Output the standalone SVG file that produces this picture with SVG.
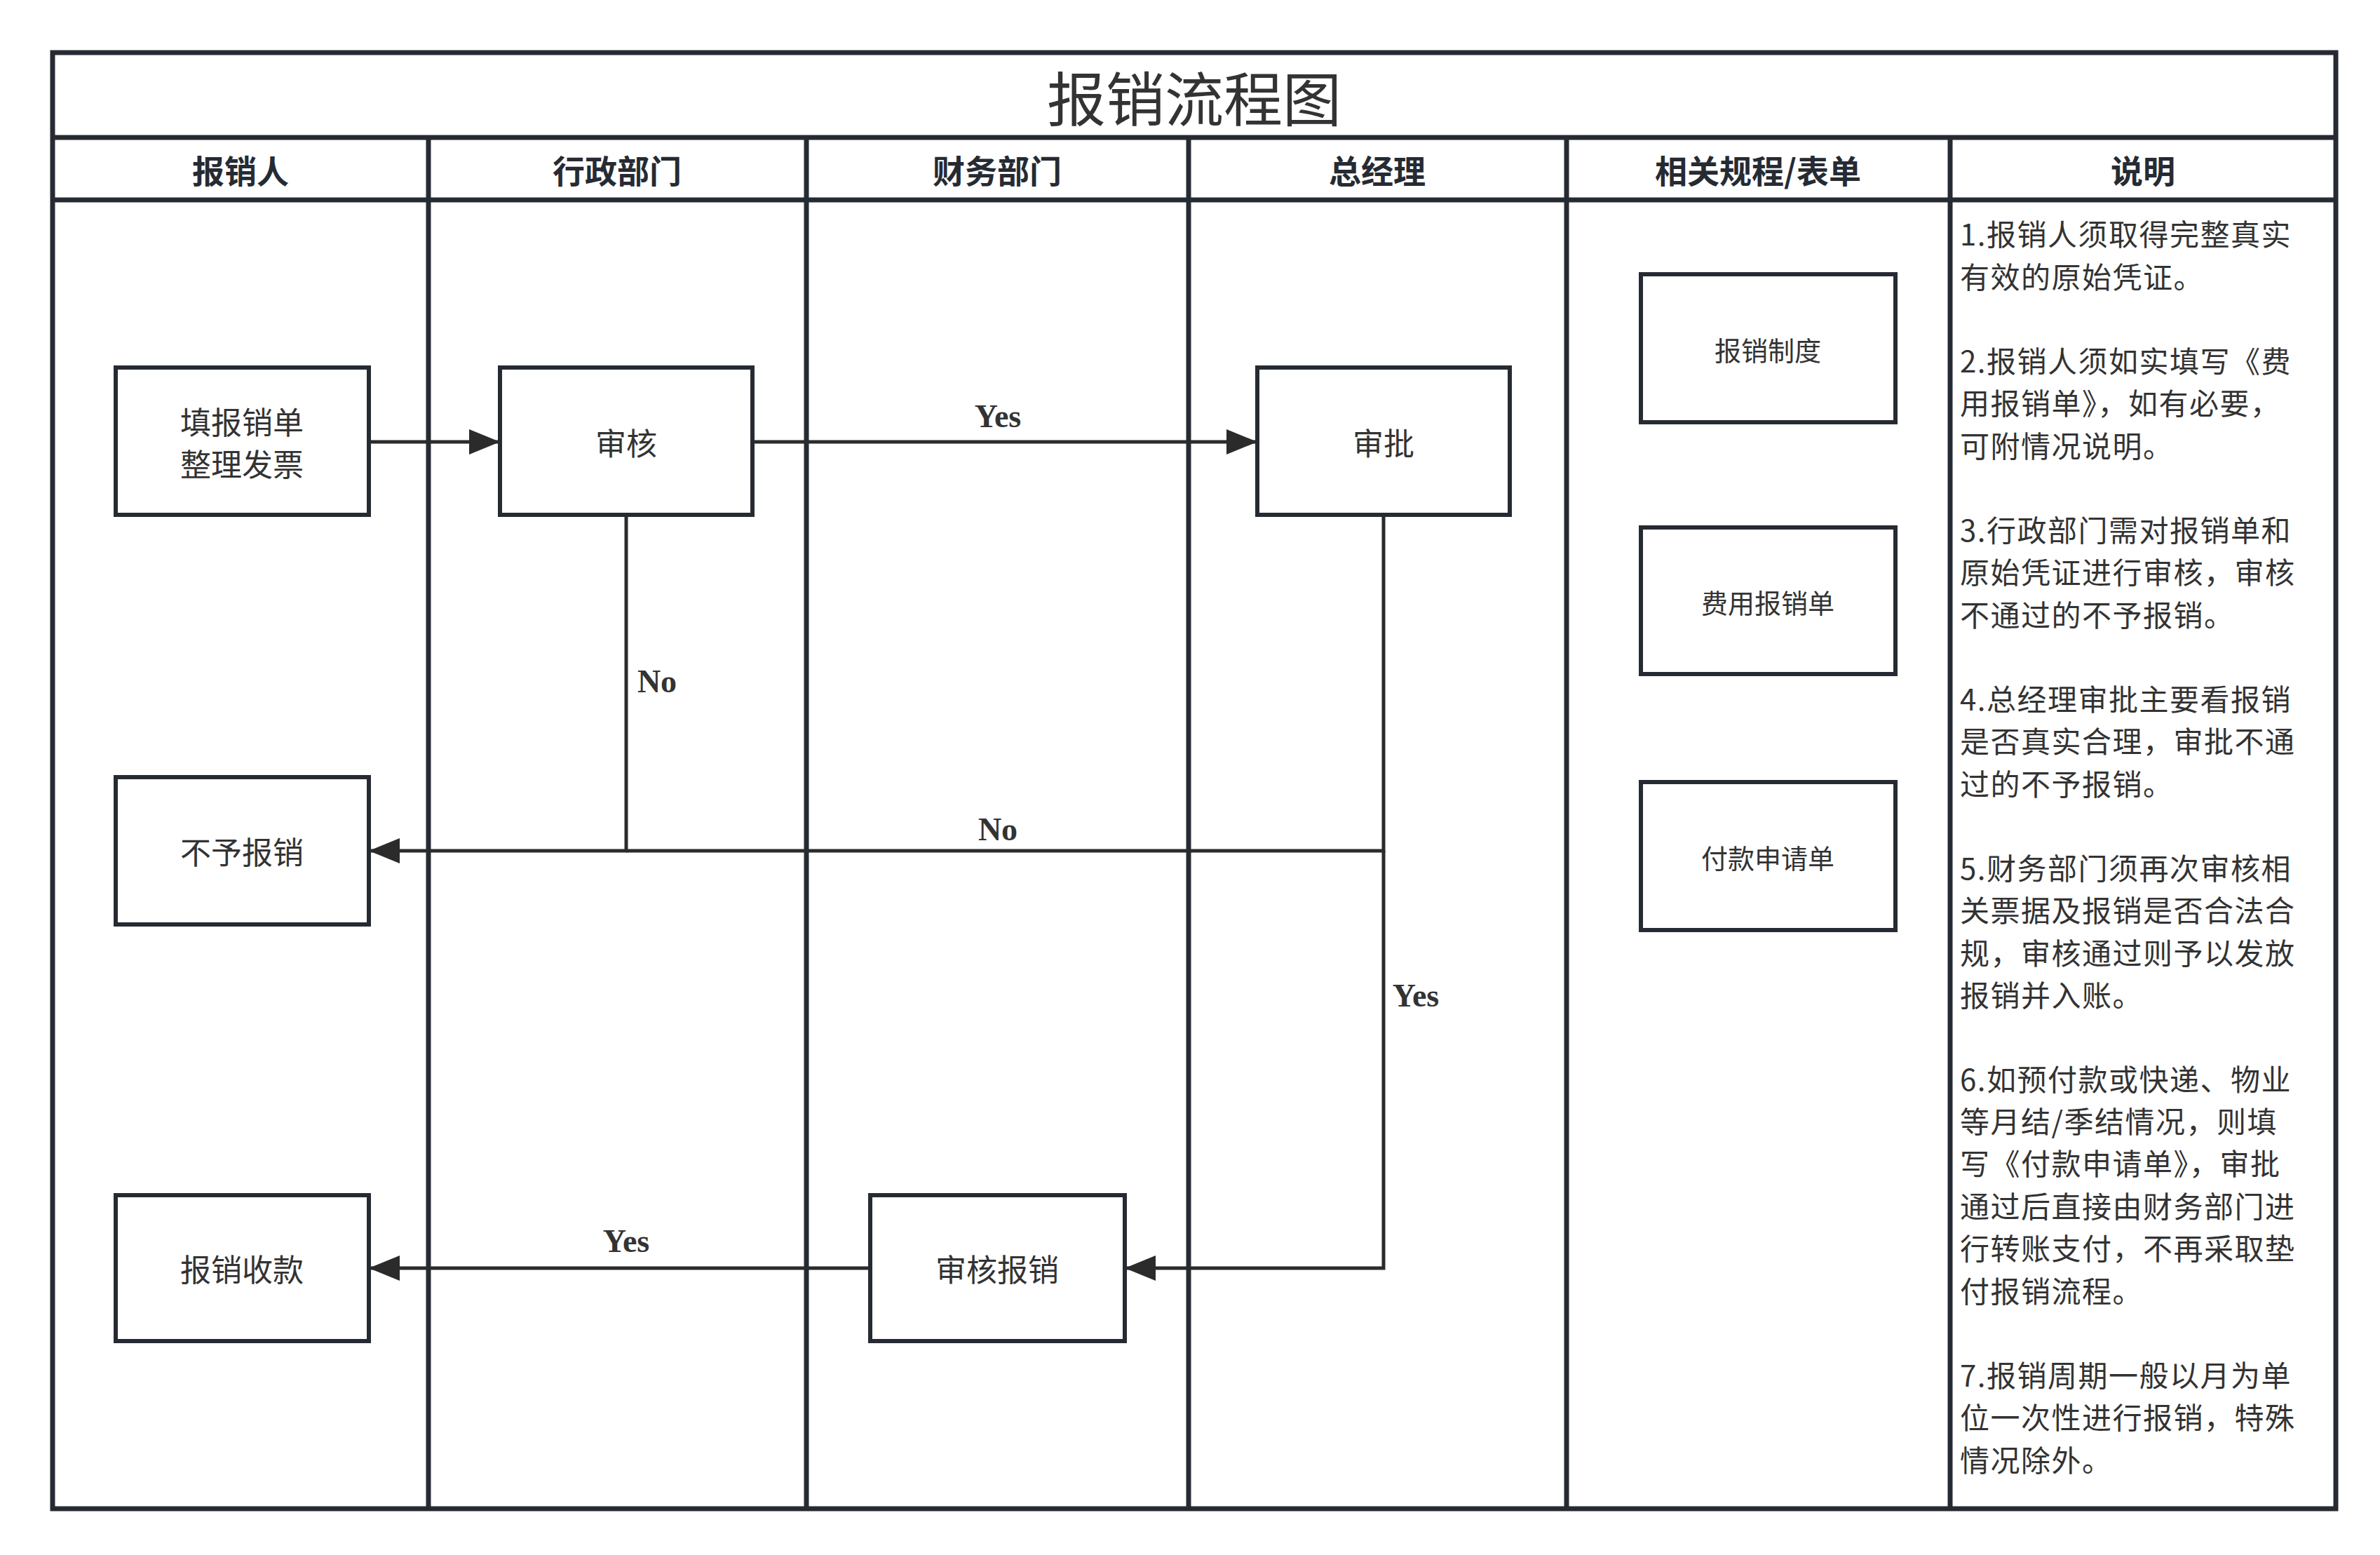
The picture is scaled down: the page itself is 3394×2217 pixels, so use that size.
<svg xmlns="http://www.w3.org/2000/svg" width="3394" height="2217" viewBox="0 0 3394 2217">
<style>
.ln{stroke:#262b33;stroke-width:7;fill:none}
.nd{fill:#fff;stroke:#262b33;stroke-width:6}
.cn{stroke:#2b2b2b;stroke-width:5;fill:none}
.t{font-family:"Noto Sans CJK SC","Noto Sans",sans-serif;fill:#333;text-anchor:middle;dominant-baseline:central}
.nt{font-size:44px;font-family:"Noto Sans CJK SC",sans-serif;fill:#333;text-anchor:middle;dominant-baseline:central}
.hd{font-size:46px;font-weight:bold;font-family:"Noto Sans CJK SC",sans-serif;fill:#262b33;text-anchor:middle;dominant-baseline:central}
.lb{font-size:46px;font-weight:bold;font-family:"Liberation Serif",serif;fill:#333;text-anchor:middle;dominant-baseline:central}
.note{font-size:42px;letter-spacing:1.5px;font-family:"Noto Sans CJK SC",sans-serif;fill:#333}
</style>
<defs><marker id="ar" markerWidth="10" markerHeight="10" refX="9" refY="5" orient="auto" markerUnits="userSpaceOnUse" viewBox="0 0 10 10"><path d="M0,0 L10,5 L0,10 z" fill="#2b2b2b"/></marker>
<marker id="a" viewBox="0 0 10 10" refX="10" refY="5" markerWidth="44" markerHeight="36" markerUnits="userSpaceOnUse" orient="auto" preserveAspectRatio="none"><path d="M0,0 L10,5 L0,10 z" fill="#2b2b2b"/></marker></defs>
<g id="frame">
<rect x="75" y="75" width="3256" height="2076" class="ln" fill="#fff"/>
<line x1="75" y1="196" x2="3331" y2="196" class="ln"/>
<line x1="75" y1="285" x2="3331" y2="285" class="ln"/>
<line x1="611" y1="196" x2="611" y2="2151" class="ln"/>
<line x1="1150" y1="196" x2="1150" y2="2151" class="ln"/>
<line x1="1695" y1="196" x2="1695" y2="2151" class="ln"/>
<line x1="2234" y1="196" x2="2234" y2="2151" class="ln"/>
<line x1="2781" y1="196" x2="2781" y2="2151" class="ln"/>
<text x="1703" y="136" class="t" font-size="84" fill="#262b33">报销流程图</text>
<text x="343" y="241" class="hd">报销人</text>
<text x="880" y="241" class="hd">行政部门</text>
<text x="1422" y="241" class="hd">财务部门</text>
<text x="1964" y="241" class="hd">总经理</text>
<text x="2507" y="241" class="hd">相关规程/表单</text>
<text x="3056" y="241" class="hd">说明</text>
</g>
<g id="connectors">
<path d="M526,630 H713" class="cn" marker-end="url(#a)"/>
<path d="M1073,630 H1793" class="cn" marker-end="url(#a)"/>
<path d="M893,734 V1213 H526" class="cn" marker-end="url(#a)"/>
<path d="M1973,734 V1213 H893" class="cn"/>
<path d="M1973,1213 V1808 H1604" class="cn" marker-end="url(#a)"/>
<path d="M1241,1808 H526" class="cn" marker-end="url(#a)"/>
<text x="1423" y="593" class="lb">Yes</text>
<text x="937" y="971" class="lb">No</text>
<text x="1423" y="1182" class="lb">No</text>
<text x="2019" y="1419" class="lb">Yes</text>
<text x="893" y="1769" class="lb">Yes</text>
</g>
<g id="n1"><rect x="165" y="524" width="361" height="210" class="nd"/><text x="345" y="600" class="nt">填报销单</text><text x="345" y="660" class="nt">整理发票</text></g>
<g id="n2"><rect x="713" y="524" width="360" height="210" class="nd"/><text x="893" y="630" class="nt">审核</text></g>
<g id="n3"><rect x="1793" y="524" width="360" height="210" class="nd"/><text x="1973" y="630" class="nt">审批</text></g>
<g id="n4"><rect x="165" y="1108" width="361" height="210" class="nd"/><text x="345" y="1213" class="nt">不予报销</text></g>
<g id="n5"><rect x="165" y="1704" width="361" height="208" class="nd"/><text x="345" y="1808" class="nt">报销收款</text></g>
<g id="n6"><rect x="1241" y="1704" width="363" height="208" class="nd"/><text x="1422" y="1808" class="nt">审核报销</text></g>
<g id="r1"><rect x="2340" y="391" width="363" height="211" class="nd"/><text x="2521" y="497" class="t" font-size="38" fill="#222">报销制度</text></g>
<g id="r2"><rect x="2340" y="752" width="363" height="209" class="nd"/><text x="2521" y="857" class="t" font-size="38" fill="#222">费用报销单</text></g>
<g id="r3"><rect x="2340" y="1115" width="363" height="211" class="nd"/><text x="2521" y="1221" class="t" font-size="38" fill="#222">付款申请单</text></g>
<g id="notes" class="note">
<text x="2795" y="350">1.报销人须取得完整真实</text>
<text x="2795" y="411">有效的原始凭证。</text>
<text x="2795" y="531">2.报销人须如实填写《费</text>
<text x="2795" y="591">用报销单》，如有必要，</text>
<text x="2795" y="652">可附情况说明。</text>
<text x="2795" y="772">3.行政部门需对报销单和</text>
<text x="2795" y="832">原始凭证进行审核，审核</text>
<text x="2795" y="893">不通过的不予报销。</text>
<text x="2795" y="1013">4.总经理审批主要看报销</text>
<text x="2795" y="1073">是否真实合理，审批不通</text>
<text x="2795" y="1134">过的不予报销。</text>
<text x="2795" y="1254">5.财务部门须再次审核相</text>
<text x="2795" y="1314">关票据及报销是否合法合</text>
<text x="2795" y="1375">规，审核通过则予以发放</text>
<text x="2795" y="1435">报销并入账。</text>
<text x="2795" y="1555">6.如预付款或快递、物业</text>
<text x="2795" y="1615">等月结/季结情况，则填</text>
<text x="2795" y="1675">写《付款申请单》，审批</text>
<text x="2795" y="1736">通过后直接由财务部门进</text>
<text x="2795" y="1796">行转账支付，不再采取垫</text>
<text x="2795" y="1857">付报销流程。</text>
<text x="2795" y="1977">7.报销周期一般以月为单</text>
<text x="2795" y="2037">位一次性进行报销，特殊</text>
<text x="2795" y="2098">情况除外。</text>
</g>
</svg>
